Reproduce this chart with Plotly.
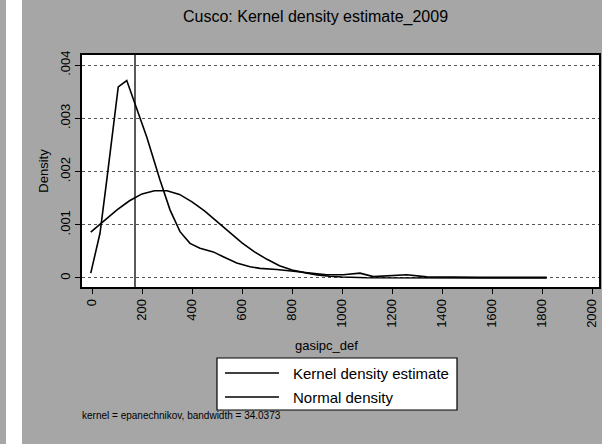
import plotly.graph_objects as go

# ==========================================================
# DATA
# ==========================================================

kernel_x = [-5, 32, 59, 79, 105, 139, 172, 219, 272, 312, 352, 392, 432, 485,
            525, 579, 632, 672, 739, 805, 872, 939, 1005, 1072, 1125, 1190,
            1259, 1339, 1450, 1550, 1650, 1750, 1819]
kernel_y = [0.00009, 0.00084, 0.00184, 0.00259, 0.00359, 0.00371, 0.00328,
            0.00265, 0.00184, 0.00128, 0.00087, 0.00065, 0.00056, 0.00049,
            0.00040, 0.00028, 0.00021, 0.00018, 0.00016, 0.00013, 0.00009,
            0.00006, 0.00006, 0.00009, 0.000025, 0.00004, 0.00006, 0.00002,
            0.00001, 0.00001, 0.00001, 0.00001, 0.00001]

normal_x = [-5, 50, 100, 150, 200, 250, 300, 350, 400, 450, 500, 550, 600,
            650, 700, 750, 800, 850, 900, 950, 1000, 1100, 1200, 1400, 1600,
            1819]
normal_y = [0.00086, 0.00108, 0.00128, 0.00145, 0.00158, 0.00164, 0.00164,
            0.00157, 0.00143, 0.00126, 0.00106, 0.00085, 0.00066, 0.00049,
            0.00035, 0.00023, 0.00015, 0.00010, 0.000057, 0.000033, 0.000018,
            0.000004, 0.000001, 0.0, 0.0, 0.0]

series_names = ["Kernel density estimate", "Normal density"]

xline_value = 172

x_ticks = list(range(0, 2001, 200))
y_ticks = [0, 0.001, 0.002, 0.003, 0.004]
y_tick_labels = ["0", ".001", ".002", ".003", ".004"]

TITLE = "Cusco: Kernel density estimate_2009"
NOTE = "kernel = epanechnikov, bandwidth = 34.0373"

# ==========================================================
# LAYOUT HELPERS (pixel -> paper coords, plot area 82..599 x 55..287)
# ==========================================================

L, R, T, B = 82, 599, 55, 287


def px(xp):
    return (xp - L) / (R - L)


def py(yp):
    return (B - yp) / (B - T)


FONT = "Liberation Sans, Arial, sans-serif"
BG = "#a6a6a6"

fig = go.Figure()

fig.add_trace(go.Scatter(
    x=kernel_x, y=kernel_y, mode="lines",
    name=series_names[0], showlegend=False,
    line=dict(color="black", width=1.6)
))

fig.add_trace(go.Scatter(
    x=normal_x, y=normal_y, mode="lines",
    name=series_names[1], showlegend=False,
    line=dict(color="black", width=1.6)
))

# vertical reference line
fig.add_shape(
    type="line", xref="x", yref="paper",
    x0=xline_value, x1=xline_value, y0=0, y1=1,
    line=dict(color="black", width=1.3)
)

# white strip at the left edge of the scan
fig.add_shape(
    type="rect", xref="paper", yref="paper",
    x0=px(6), x1=px(22), y0=py(460), y1=py(-10),
    fillcolor="white", line=dict(width=0), layer="below"
)

# Stata-style legend box
fig.add_shape(
    type="rect", xref="paper", yref="paper",
    x0=px(217), x1=px(457), y0=py(410), y1=py(358),
    fillcolor="white", line=dict(color="black", width=1.2)
)

annotations = [
    dict(text=TITLE, x=px(315), y=py(17), xanchor="center",
         font=dict(size=16)),
    dict(text="gasipc_def", x=px(326), y=py(345), xanchor="center",
         font=dict(size=13)),
    dict(text=NOTE, x=px(80), y=py(415), xanchor="left",
         font=dict(size=10)),
]

for i, name in enumerate(series_names):
    ly = 373 + i * 24
    fig.add_shape(
        type="line", xref="paper", yref="paper",
        x0=px(225), x1=px(279), y0=py(ly), y1=py(ly),
        line=dict(color="black", width=1.4)
    )
    annotations.append(dict(text=name, x=px(291), y=py(ly),
                            xanchor="left", font=dict(size=15)))

for a in annotations:
    a.update(xref="paper", yref="paper", yanchor="middle", showarrow=False)

fig.update_layout(
    width=602, height=444,
    margin=dict(l=L, r=602 - R, t=T, b=444 - B),
    paper_bgcolor=BG,
    plot_bgcolor="white",
    font=dict(family=FONT, size=13, color="black"),
    showlegend=False,
    annotations=annotations,
)

fig.update_xaxes(
    range=[-40, 2028],
    tickvals=x_ticks,
    tickangle=-90,
    ticks="outside", ticklen=5, tickcolor="black",
    showgrid=False, zeroline=False, automargin=False,
    showline=True, linecolor="black", linewidth=1.5, mirror=True,
    tickfont=dict(size=13)
)

fig.update_yaxes(
    range=[-0.00017, 0.00419],
    tickvals=y_ticks, ticktext=y_tick_labels,
    tickangle=-90,
    ticks="outside", ticklen=5, tickcolor="black",
    showgrid=True, gridcolor="#555555", griddash="dot", gridwidth=1,
    zeroline=False, automargin=False,
    showline=True, linecolor="black", linewidth=1.5, mirror=True,
    title=dict(text="Density", standoff=6, font=dict(size=13)),
    tickfont=dict(size=13)
)

# drop the browser's default 8px body margin so the figure sits at 0,0
fig.write_html(
    "out.html",
    config={"displayModeBar": False},
    post_script="document.body.style.margin='0';"
)
